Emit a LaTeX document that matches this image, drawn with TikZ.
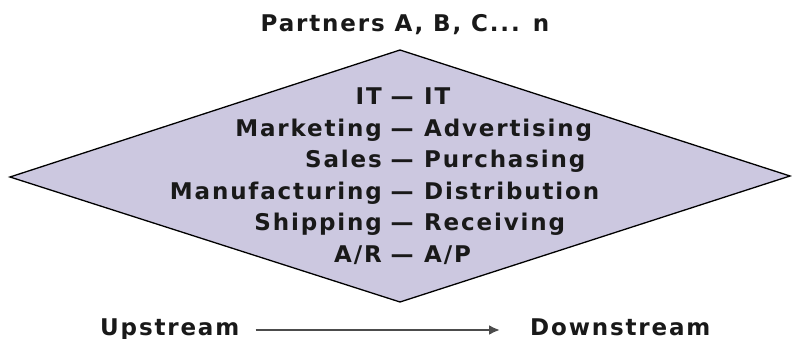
\documentclass[tikz,border=0pt]{standalone}
\usepackage{fontspec}
\setmainfont{DejaVu Sans}[LetterSpace=8]
\usetikzlibrary{arrows.meta}
\definecolor{diamondfill}{RGB}{204,200,224}
\definecolor{ink}{RGB}{25,25,25}
\tikzset{
  lbl/.style={inner sep=0pt, font=\fontsize{23}{23}\selectfont\bfseries, text=ink},
  flow/.style={line width=2.2pt, draw=black!70, -{Latex[length=11pt,width=10pt]}}
}
\begin{document}
\begin{tikzpicture}[x=1pt,y=-1pt]
  \useasboundingbox (0,0) rectangle (792,339);
  % the diamond
  \draw[line width=1.3pt, fill=diamondfill] (10,177) -- (400,50) -- (790,176) -- (400,302) -- cycle;
  \node[lbl, anchor=base] (partners) at (405,32) {Partners A, B, C... n};
  % rows, left part right aligned and right part left aligned on the dash
  \foreach \l/\r [count=\i] in {IT/IT, Marketing/Advertising, Sales/Purchasing, Manufacturing/Distribution, Shipping/Receiving, {A/R}/{A/P}} {
    \node[lbl, anchor=base east] (left\i) at (382,{105+31.4*(\i-1)}) {\l};
    \node[lbl, anchor=base] (dash\i) at (402,{105+31.4*(\i-1)}) {—};
    \node[lbl, anchor=base west] (right\i) at (424,{105+31.4*(\i-1)}) {\r};
  }
  \node[lbl, anchor=base west] (up) at (100,335) {Upstream};
  \node[lbl, anchor=base west] (down) at (530,335) {Downstream};
  \draw[flow] ([xshift=16pt,yshift=5pt]up.base east) -- ([xshift=-30pt,yshift=5pt]down.base west);
\end{tikzpicture}
\end{document}
